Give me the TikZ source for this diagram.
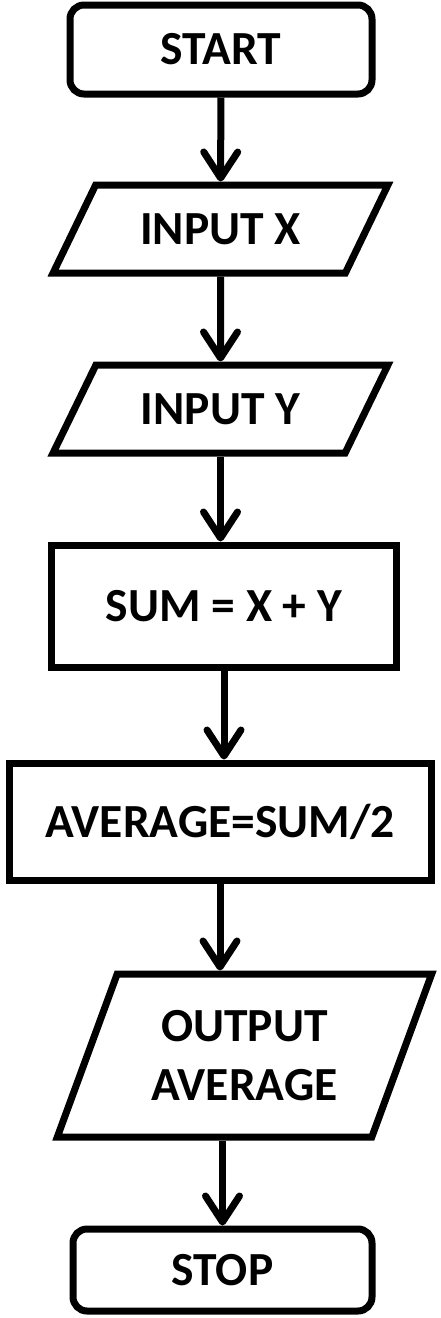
\documentclass[tikz,border=0pt]{standalone}
\usepackage{fontspec}
\setmainfont{Carlito}
\usetikzlibrary{shapes.geometric,arrows.meta}

\begin{document}
\begin{tikzpicture}[x=1pt, y=-1pt,
    every node/.style={line width=7pt, font=\fontsize{47.5}{59}\selectfont\bfseries, align=center},
    terminal/.style={draw, rectangle, rounded corners=14pt},
    process/.style={draw, rectangle},
    io/.style={draw, trapezium, trapezium stretches=true},
    flow/.style={line width=7pt, -{Straight Barb[length=26pt,width=34pt,line cap=round,line join=round]}}]
  \useasboundingbox (0,0) rectangle (440,1318);
  % Terminals
  \node[terminal, minimum width=302pt, minimum height=89pt] (start) at (221,49.5) {START};
  \node[terminal, minimum width=299pt, minimum height=82pt] (stop)  at (222.5,1270) {STOP};
  % Input / output
  \node[io, trapezium left angle=53, trapezium right angle=127,
        minimum width=335pt, minimum height=88pt] (inx) at (220.5,229) {INPUT X};
  \node[io, trapezium left angle=53, trapezium right angle=127,
        minimum width=335pt, minimum height=88pt] (iny) at (220.5,409) {INPUT Y};
  \node[io, trapezium left angle=65, trapezium right angle=115,
        minimum width=375pt, minimum height=163pt] (outp) at (244.5,1055.5) {OUTPUT\\AVERAGE};
  % Processes
  \node[process, minimum width=345pt, minimum height=122pt] (sum) at (224,606) {SUM = X + Y};
  \node[process, minimum width=422pt, minimum height=117pt] (avg) at (220,821.5) {AVERAGE=SUM/2};
  % Flow
  \draw[flow] (start) -- (inx);
  \draw[flow] (inx) -- (iny);
  \draw[flow] (iny.south) -- (iny.south |- sum.north);
  \draw[flow] (sum.south) -- (sum.south |- avg.north);
  \draw[flow] (avg.south) -- (avg.south |- outp.north);
  \draw[flow] (stop.north |- outp.south) -- (stop.north);
\end{tikzpicture}
\end{document}
